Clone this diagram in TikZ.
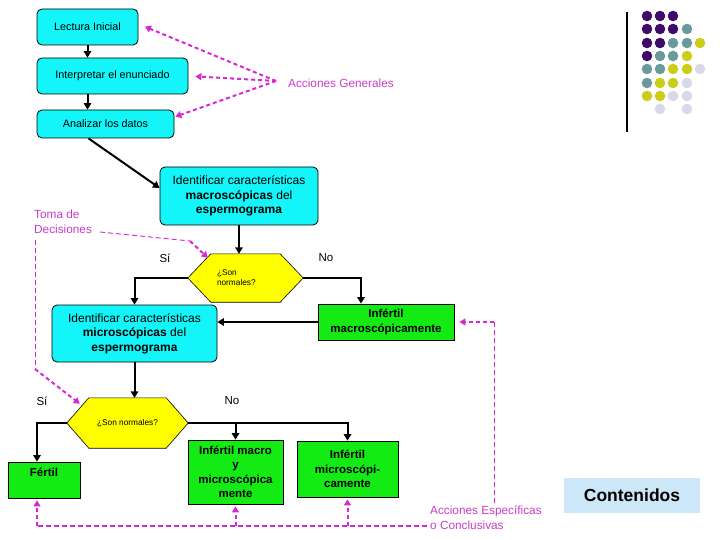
\documentclass[tikz,border=0pt]{standalone}
\usepackage{fontspec}
\setmainfont{Liberation Sans}
\usetikzlibrary{arrows.meta,backgrounds}

\definecolor{boxcyan}{RGB}{20,245,250}
\definecolor{boxgreen}{RGB}{20,235,20}
\definecolor{hexyellow}{RGB}{255,255,0}
\definecolor{notemag}{RGB}{214,40,214}
\definecolor{textmag}{RGB}{200,60,200}
\definecolor{contblue}{RGB}{204,232,248}
\definecolor{dotpurple}{RGB}{62,12,104}
\definecolor{dotteal}{RGB}{106,154,156}
\definecolor{dotyellow}{RGB}{204,204,26}
\definecolor{dotlilac}{RGB}{216,216,232}

\begin{document}
\begin{tikzpicture}[x=1pt,y=-1pt,
		cyanbox/.style={draw, line width=0.8pt, rounded corners=5pt, fill=boxcyan, inner sep=0pt, align=center},
		greenbox/.style={draw, line width=0.8pt, fill=boxgreen, inner sep=0pt, align=center, font=\bfseries\fontsize{11.5}{14.5}\selectfont},
		hexbox/.style={inner sep=0pt, align=left, font=\fontsize{8.3}{10}\selectfont},
		hexshape/.style={draw, line width=0.6pt, fill=hexyellow},
		flow/.style={line width=2pt, -{Triangle[width=7.5pt,length=6.5pt]}},
		note/.style={text=textmag, inner sep=0pt, align=left, font=\fontsize{11.8}{15}\selectfont},
		noteline/.style={notemag, line width=2pt, dash pattern=on 4pt off 3pt},
		notearrow/.style={noteline, -{Triangle[width=7pt,length=6pt]}},
		thinnote/.style={notemag, line width=0.9pt, dash pattern=on 5pt off 3pt},
		answer/.style={inner sep=0pt, font=\fontsize{11.5}{14}\selectfont}
	]
	\useasboundingbox (0,0) rectangle (720,540);
	
	% general actions
	\node (lect) [cyanbox, minimum width=101pt, minimum height=36pt, font=\fontsize{10.8}{12}\selectfont] at (87.5,27) {Lectura Inicial};
	\node (interp) [cyanbox, minimum width=151pt, minimum height=36pt, font=\fontsize{10.8}{12}\selectfont] at (112.5,76) {Interpretar el enunciado};
	\node (anal) [cyanbox, minimum width=137pt, minimum height=28pt, font=\fontsize{10.8}{12}\selectfont] at (105.5,124) {Analizar los datos};
	
	\draw [flow] (lect.south) -- (lect.south |- interp.north);
	\draw [flow] (lect.south |- interp.south) -- (lect.south |- anal.north);
	
	% macroscopic step
	\node (idmacro) [cyanbox, minimum width=158pt, minimum height=58pt, font=\fontsize{12}{14.5}\selectfont] at (239,196) {Identificar características\\\textbf{macroscópicas} del\\\textbf{espermograma}};
	\node (hex1) [hexbox, minimum width=115pt, minimum height=48pt, text width=57pt] at (245.5,278) {¿Son\\normales?};
	\node (si1) [answer] at (165,258) {Sí};
	\node (no1) [answer] at (326,258) {No};
	\node (infmacro) [greenbox, minimum width=136pt, minimum height=36pt] at (386,322) {Infértil\\macroscópicamente};
	
	% microscopic step
	\node (idmicro) [cyanbox, minimum width=165pt, minimum height=57pt, font=\fontsize{12}{14.5}\selectfont] at (134.5,333.5) {Identificar características\\\textbf{microscópicas} del\\\textbf{espermograma}};
	\node (hex2) [hexbox, minimum width=121pt, minimum height=50pt] at (127.5,423) {¿Son normales?};
	\node (si2) [answer] at (42,401) {Sí};
	\node (no2) [answer] at (232,401) {No};
	\node (fertil) [greenbox, minimum width=72pt, minimum height=36pt] at (44,480) {Fértil\\\phantom{F}};
	\node (infmy) [greenbox, minimum width=95pt, minimum height=64pt] at (235.5,472) {Infértil macro\\y\\microscópica\\mente};
	\node (infmicro) [greenbox, minimum width=101pt, minimum height=56pt] at (347.5,469) {Infértil\\microscópi-\\camente};
	
	\begin{pgfonlayer}{background}
		\draw [hexshape] (hex1.west) -- ([xshift=23pt]hex1.north west) -- ([xshift=-23pt]hex1.north east) -- (hex1.east) -- ([xshift=-23pt]hex1.south east) -- ([xshift=23pt]hex1.south west) -- cycle;
		\draw [hexshape] (hex2.west) -- ([xshift=22pt]hex2.north west) -- ([xshift=-22pt]hex2.north east) -- (hex2.east) -- ([xshift=-22pt]hex2.south east) -- ([xshift=22pt]hex2.south west) -- cycle;
	\end{pgfonlayer}
	
	\draw [flow] ([xshift=-17pt]anal.south) -- ([yshift=8pt]idmacro.west);
	\draw [flow] (idmacro.south) -- (idmacro.south |- hex1.north);
	\draw [flow] (hex1.west) -| (idmicro.north);
	\draw [flow] (hex1.east) -| ([xshift=-25pt]infmacro.north);
	\draw [flow] (infmacro.west) -- (infmacro.west -| idmicro.east);
	\draw [flow] (idmicro.south) -- (idmicro.south |- hex2.north);
	\draw [flow] (hex2.west) -| ([xshift=-7pt]fertil.north);
	\draw [flow] (hex2.east) -| (infmy.north);
	\draw [flow] (hex2.east) -| (infmicro.north);
	
	% magenta notes
	\node (gen) [note, anchor=west] at (288,83) {Acciones Generales};
	\coordinate (genpt) at ([xshift=-12pt,yshift=2pt]gen.west);
	\draw [notearrow, shorten >=7pt] (genpt) -- ([yshift=3pt]lect.east);
	\draw [notearrow, shorten >=7pt] (genpt) -- (interp.east);
	\draw [notearrow, shorten >=1pt] (genpt) -- ([yshift=7pt]anal.east);
	
	\node (toma) [note, anchor=north west] at (34,210) {Toma de\\Decisiones};
	\coordinate (tomaout) at (100,232);
	\coordinate (tomabend) at (190,241);
	\draw [thinnote] (tomaout) -- (tomabend);
	\draw [notearrow] (tomabend) -- ([xshift=20pt,yshift=-4pt]hex1.north west);
	\coordinate (tomadown) at (35,240);
	\coordinate (tomabend2) at (35,369);
	\draw [thinnote] (tomadown) -- (tomabend2);
	\draw [notearrow] (tomabend2) -- ([xshift=13pt,yshift=-6pt]hex2.north west);
	
	\node (espec) [note, anchor=north west] at (430,506) {Acciones Específicas\\o Conclusivas};
	\coordinate (especin) at (427,526);
	\coordinate (especup) at (494,503);
	\coordinate (fertilin) at ([xshift=-7pt]fertil.south);
	\draw [thinnote, line width=1.2pt] (especin) -- (fertilin |- especin);
	\draw [notearrow, shorten >=2pt] (fertilin |- especin) -- (fertilin);
	\draw [notearrow, shorten >=2pt] (infmy.south |- especin) -- (infmy.south);
	\draw [notearrow, shorten >=2pt] (infmicro.south |- especin) -- (infmicro.south);
	\draw [thinnote] (especup) -- (especup |- infmacro.east);
	\draw [notearrow, shorten >=5pt] (especup |- infmacro.east) -- (infmacro.east);
	
	\node (cont) [fill=contblue, minimum width=136pt, minimum height=35pt, font=\bfseries\fontsize{17.5}{20}\selectfont] at (632,495.5) {Contenidos};
	
	% corner decoration
	\draw [line width=1.2pt] (627,12) -- (627,132);
	\fill [dotpurple] (647,16) circle [radius=5.3pt] (660,16) circle [radius=5.3pt] (673,16) circle [radius=5.3pt];
	\fill [dotpurple] (647,29) circle [radius=5.3pt] (660,29) circle [radius=5.3pt] (673,29) circle [radius=5.3pt];
	\fill [dotpurple] (647,43) circle [radius=5.3pt] (660,43) circle [radius=5.3pt] (647,56) circle [radius=5.3pt];
	\fill [dotteal] (687,29) circle [radius=5.3pt] (673,43) circle [radius=5.3pt] (687,43) circle [radius=5.3pt];
	\fill [dotteal] (660,56) circle [radius=5.3pt] (673,56) circle [radius=5.3pt];
	\fill [dotteal] (647,69) circle [radius=5.3pt] (660,69) circle [radius=5.3pt] (647,83) circle [radius=5.3pt];
	\fill [dotyellow] (700,43) circle [radius=5.3pt] (687,56) circle [radius=5.3pt];
	\fill [dotyellow] (673,69) circle [radius=5.3pt] (687,69) circle [radius=5.3pt];
	\fill [dotyellow] (660,83) circle [radius=5.3pt] (673,83) circle [radius=5.3pt];
	\fill [dotyellow] (647,96) circle [radius=5.3pt] (660,96) circle [radius=5.3pt];
	\fill [dotlilac] (700,69) circle [radius=5.3pt] (687,83) circle [radius=5.3pt];
	\fill [dotlilac] (673,96) circle [radius=5.3pt] (687,96) circle [radius=5.3pt];
	\fill [dotlilac] (660,109) circle [radius=5.3pt] (687,109) circle [radius=5.3pt];
\end{tikzpicture}
\end{document}
